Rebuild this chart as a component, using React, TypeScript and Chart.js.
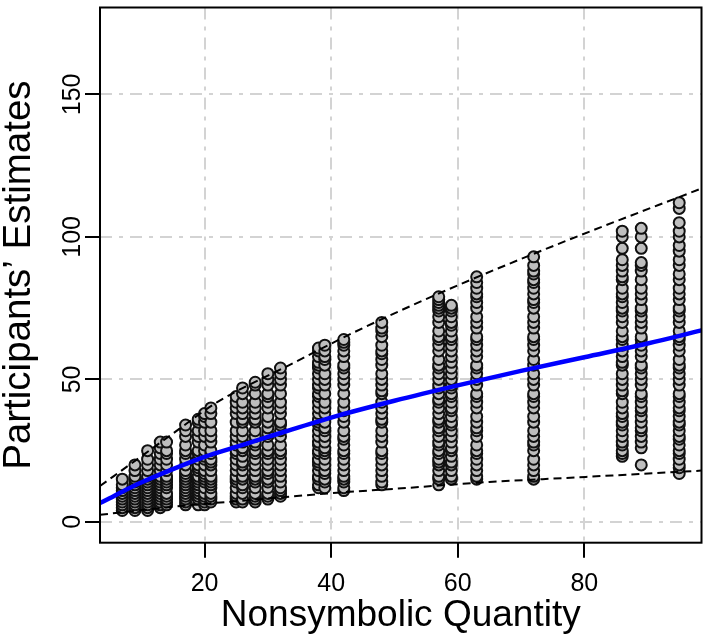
import React, { useEffect, useRef } from "react";
import { Chart, registerables } from "chart.js";

Chart.register(...registerables);

// Nonsymbolic quantities shown (x positions of the point columns)
const quantities = [7, 9, 11, 13, 14, 17, 19, 20, 21, 25, 26, 28, 30, 32, 38, 39, 42, 48, 57, 59, 63, 72, 86, 89, 95];

// Participants' estimates for each quantity
const est07 = [4, 5, 6, 7, 8, 9, 10, 11, 12, 13, 15];
const est09 = [4, 5, 6, 7, 8, 9, 10, 11, 12, 13, 14, 15, 16, 18, 20];
const est11 = [4, 5, 6, 7, 8, 9, 10, 11, 12, 13, 14, 15, 16, 18, 20, 22, 25];
const est13 = [5, 6, 7, 8, 9, 10, 11, 12, 13, 14, 15, 16, 18, 20, 22, 24, 26, 28];
const est14 = [6, 7, 8, 9, 10, 12, 13, 14, 15, 16, 18, 20, 22, 24, 25, 28];
const est17 = [6, 7, 8, 9, 10, 11, 12, 13, 14, 15, 16, 17, 18, 20, 22, 24, 25, 27, 30, 32, 34];
const est19 = [6, 8, 9, 10, 11, 12, 13, 14, 15, 16, 18, 19, 20, 22, 24, 25, 28, 30, 32, 35, 36];
const est20 = [6, 7, 8, 9, 10, 12, 14, 15, 16, 17, 18, 20, 22, 23, 25, 27, 30, 32, 35, 37, 38];
const est21 = [7, 8, 9, 10, 12, 13, 14, 15, 16, 18, 20, 21, 22, 24, 25, 28, 30, 32, 35, 38, 40];
const est25 = [7, 8, 9, 10, 12, 14, 15, 16, 18, 20, 22, 24, 25, 27, 28, 30, 32, 35, 38, 40, 42, 44];
const est26 = [7, 8, 10, 12, 13, 15, 16, 18, 20, 21, 23, 25, 26, 28, 30, 32, 35, 36, 38, 40, 42, 45, 47];
const est28 = [7, 8, 9, 10, 12, 14, 15, 16, 18, 20, 22, 24, 25, 27, 28, 30, 32, 35, 36, 38, 40, 42, 45, 48, 49];
const est30 = [8, 9, 10, 12, 14, 15, 17, 18, 20, 22, 24, 25, 27, 30, 31, 33, 35, 37, 40, 42, 44, 45, 48, 50, 52];
const est32 = [9, 10, 11, 12, 14, 16, 18, 20, 22, 24, 25, 27, 30, 32, 34, 35, 38, 40, 42, 45, 48, 50, 52, 54];
const est38 = [12, 13, 15, 16, 18, 20, 21, 22, 24, 25, 27, 28, 30, 32, 34, 35, 36, 38, 40, 42, 44, 45, 47, 48, 50, 52, 54, 55, 56, 58, 60, 61];
const est39 = [12, 14, 15, 17, 18, 20, 22, 24, 25, 26, 28, 30, 32, 33, 35, 38, 40, 42, 45, 48, 50, 52, 55, 57, 58, 60, 62];
const est42 = [11, 12, 14, 15, 16, 18, 20, 22, 24, 25, 27, 29, 30, 32, 35, 37, 39, 40, 42, 45, 48, 50, 52, 54, 55, 58, 60, 62, 63, 64];
const est48 = [13, 14, 16, 18, 20, 22, 24, 25, 28, 30, 32, 35, 36, 38, 40, 42, 45, 46, 48, 50, 52, 55, 57, 59, 60, 62, 65, 67, 68, 70];
const est57 = [13, 15, 16, 18, 20, 21, 22, 24, 25, 27, 28, 30, 32, 33, 35, 36, 38, 40, 42, 43, 45, 47, 48, 50, 52, 54, 55, 57, 60, 62, 64, 65, 67, 70, 72, 74, 75, 76, 77, 78, 79];
const est59 = [15, 16, 18, 20, 21, 23, 25, 26, 28, 30, 32, 34, 35, 37, 39, 40, 42, 44, 45, 47, 48, 50, 52, 54, 56, 58, 60, 62, 64, 65, 67, 69, 70, 72, 74, 75, 76];
const est63 = [15, 16, 18, 20, 22, 24, 25, 27, 30, 32, 33, 35, 37, 40, 42, 44, 45, 48, 50, 52, 54, 55, 58, 60, 62, 64, 65, 68, 70, 72, 75, 77, 79, 80, 82, 84, 86];
const est72 = [15, 16, 18, 20, 22, 25, 27, 28, 30, 32, 35, 37, 40, 42, 44, 45, 48, 50, 52, 55, 57, 60, 62, 64, 65, 68, 70, 72, 75, 77, 78, 80, 82, 84, 85, 87, 88, 90, 93];
const est86 = [23, 24, 25, 27, 28, 30, 32, 34, 35, 37, 38, 40, 42, 45, 46, 48, 50, 52, 55, 56, 58, 60, 62, 64, 65, 67, 70, 72, 74, 75, 77, 79, 80, 82, 85, 86, 88, 90, 92, 96, 100, 102];
const est89 = [20, 26, 28, 30, 32, 33, 35, 37, 39, 40, 42, 44, 45, 48, 50, 52, 54, 55, 58, 60, 62, 64, 65, 68, 70, 72, 74, 75, 78, 80, 82, 85, 88, 90, 91, 96, 100, 103];
const est95 = [17, 19, 20, 22, 24, 25, 27, 29, 30, 32, 34, 35, 37, 39, 40, 42, 44, 45, 48, 50, 52, 54, 55, 57, 60, 62, 64, 65, 67, 70, 72, 74, 75, 78, 80, 82, 85, 87, 90, 92, 95, 97, 100, 102, 105, 110, 112];

const estimates = [est07, est09, est11, est13, est14, est17, est19, est20, est21, est25, est26, est28, est30, est32, est38, est39, est42, est48, est57, est59, est63, est72, est86, est89, est95];

// Fitted curve (blue)
const fitX = [3.48, 5, 7, 10, 15, 20, 25, 30, 40, 50, 60, 70, 80, 90, 98.52];
const fitY = [6.6, 8.3, 10.6, 13.8, 18.5, 22.8, 26.3, 29.8, 36.6, 42.5, 47.9, 53.0, 57.8, 62.6, 67.2];

// Upper and lower dashed bounds
const upperX = [3.48, 10, 15, 22, 33, 45, 60, 77, 98.52];
const upperY = [12.6, 23, 31, 42, 54.6, 68, 83, 98.5, 117];
const lowerX = [3.48, 15, 30, 42, 50, 65, 77, 98.52];
const lowerY = [2.5, 5.3, 8.2, 10.4, 11.6, 14, 15.4, 18];

const xTicks = [20, 40, 60, 80];
const yTicks = [0, 50, 100, 150];
const xTitle = "Nonsymbolic Quantity";
const yTitle = "Participants\u2019 Estimates";

const FONT = '"Liberation Sans", Arial, Helvetica, sans-serif';
const W = 709;
const H = 642;
const PLOT_LEFT = 100;
const PLOT_RIGHT = 705.7;
const PLOT_TOP = 4;
const PLOT_BOTTOM = 542.7;

const framePlugin = {
  id: "frame",
  afterDraw(chart: any) {
    const { ctx, chartArea: a, scales } = chart;
    ctx.save();
    ctx.strokeStyle = "#000";
    ctx.lineWidth = 2;
    ctx.setLineDash([]);
    ctx.strokeRect(a.left, a.top, a.right - a.left, a.bottom - a.top);
    ctx.fillStyle = "#000";
    ctx.font = `25px ${FONT}`;
    ctx.textAlign = "center";
    ctx.textBaseline = "alphabetic";
    yTicks.forEach((v) => {
      const y = scales.y.getPixelForValue(v);
      ctx.save();
      ctx.translate(80, y);
      ctx.rotate(-Math.PI / 2);
      ctx.fillText(String(v), 0, 0);
      ctx.restore();
    });
    ctx.restore();
  },
};

export default function App() {
  const ref = useRef<HTMLCanvasElement | null>(null);

  useEffect(() => {
    if (!ref.current) return;
    const points: { x: number; y: number }[] = [];
    quantities.forEach((q, i) => {
      estimates[i].forEach((e) => points.push({ x: q, y: e }));
    });
    const grid = {
      color: "#d3d3d3",
      lineWidth: 2,
      drawTicks: true,
      tickLength: 15,
      tickColor: "#000",
      tickWidth: 2,
      tickBorderDash: [],
    };
    const chart = new Chart(ref.current, {
      type: "scatter",
      data: {
        datasets: [
          {
            label: "upper",
            type: "line",
            data: upperX.map((x, i) => ({ x, y: upperY[i] })),
            borderColor: "#000",
            borderWidth: 2,
            borderDash: [8, 5],
            pointRadius: 0,
            cubicInterpolationMode: "monotone",
            fill: false,
            order: 2,
          } as any,
          {
            label: "lower",
            type: "line",
            data: lowerX.map((x, i) => ({ x, y: lowerY[i] })),
            borderColor: "#000",
            borderWidth: 2,
            borderDash: [8, 5],
            pointRadius: 0,
            cubicInterpolationMode: "monotone",
            fill: false,
            order: 2,
          } as any,
          {
            label: "estimates",
            data: points,
            pointRadius: 5.5,
            pointBorderWidth: 2,
            backgroundColor: "#bebebe",
            borderColor: "#111",
            order: 3,
          } as any,
          {
            label: "fit",
            type: "line",
            data: fitX.map((x, i) => ({ x, y: fitY[i] })),
            borderColor: "#0000ff",
            borderWidth: 4.5,
            pointRadius: 0,
            cubicInterpolationMode: "monotone",
            fill: false,
            order: 1,
          } as any,
        ],
      },
      options: {
        animation: false,
        responsive: false,
        devicePixelRatio: 1,
        layout: { padding: { left: 0, top: PLOT_TOP, right: W - PLOT_RIGHT, bottom: 0 } },
        plugins: { legend: { display: false }, tooltip: { enabled: false } },
        scales: {
          x: {
            type: "linear",
            min: 3.48,
            max: 98.52,
            afterBuildTicks: (s: any) => {
              s.ticks = xTicks.map((v) => ({ value: v }));
            },
            afterFit: (s: any) => {
              s.height = H - PLOT_BOTTOM;
            },
            ticks: {
              color: "#000",
              font: { size: 25, family: FONT },
              padding: 11,
              maxRotation: 0,
              autoSkip: false,
              callback: (v: any) => String(v),
            },
            grid,
            border: { display: false, dash: [12, 7, 4, 7] },
            title: {
              display: true,
              text: xTitle,
              color: "#000",
              font: { size: 37, family: FONT, lineHeight: 1 },
              padding: { top: 0, bottom: 8 },
            },
          },
          y: {
            type: "linear",
            min: -7.3,
            max: 180.5,
            afterBuildTicks: (s: any) => {
              s.ticks = yTicks.map((v) => ({ value: v }));
            },
            afterFit: (s: any) => {
              s.width = PLOT_LEFT;
            },
            ticks: { display: false },
            grid,
            border: { display: false, dash: [12, 7, 4, 7] },
            title: {
              display: true,
              text: yTitle,
              color: "#000",
              font: { size: 38.5, family: FONT, lineHeight: 1 },
              padding: { top: 0, bottom: 0 },
            },
          },
        },
      } as any,
      plugins: [framePlugin],
    });
    return () => chart.destroy();
  }, []);

  return (
    <div style={{ position: "absolute", left: 0, top: 0, width: W, height: H, background: "#fff" }}>
      <canvas ref={ref} width={W} height={H} style={{ display: "block" }} />
    </div>
  );
}
